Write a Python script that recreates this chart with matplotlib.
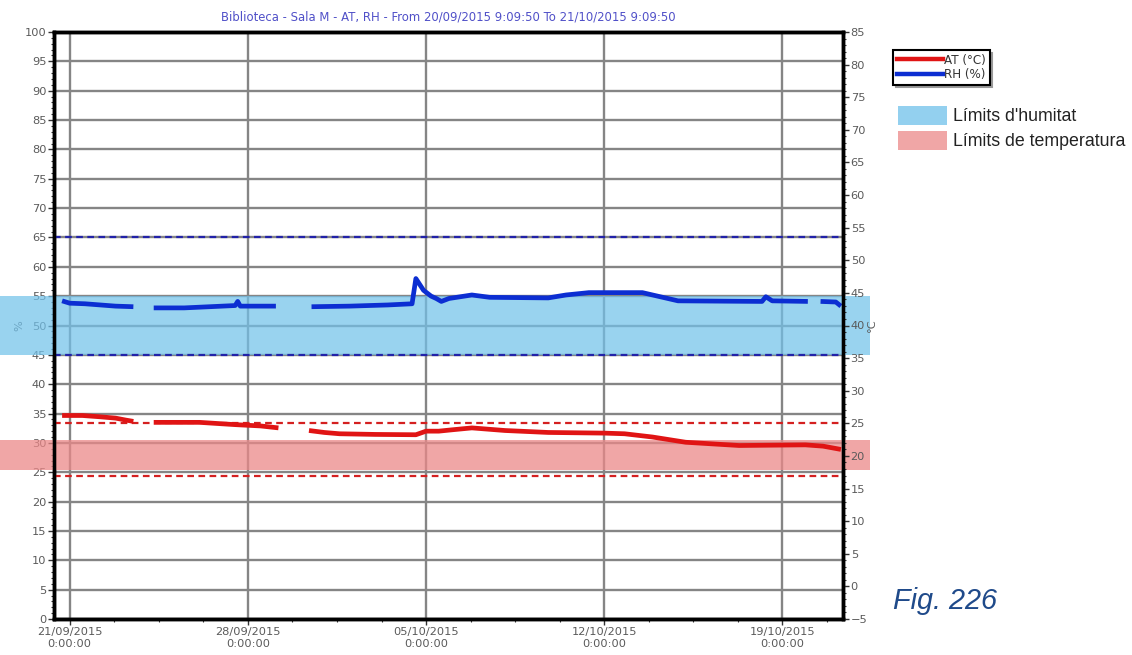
import matplotlib
matplotlib.use("Agg")
import matplotlib.pyplot as plt
import matplotlib.dates as mdates
from matplotlib.patches import Rectangle, Patch
from matplotlib.lines import Line2D
from matplotlib.ticker import MultipleLocator, FixedLocator
import matplotlib.transforms as mtransforms
import numpy as np
import pandas as pd

plt.rcParams['font.family'] = ['DejaVu Sans']

# ---------------- data ----------------
title = "Biblioteca - Sala M - AT, RH - From 20/09/2015 9:09:50 To 21/10/2015 9:09:50"
base_date = "2015-09-21 00:00:00"
start_date = "2015-09-20 09:09:50"
end_date = "2015-10-21 09:09:50"

# days after 21/09/2015 0:00, NaN marks a gap in the record
rh_days = [-0.3, 0.0, 0.6, 1.2, 1.8, 2.5, 2.9,
           3.3, 4.5, 5.5, 6.5, 6.6, 6.7, 8.1, 8.8,
           9.5, 11.0, 12.5, 13.45, 13.6, 13.9, 14.2, 14.4, 14.6, 14.9, 15.8, 16.5,
           18.8, 19.5, 20.4, 22.5, 23.2, 23.9, 27.2, 27.35, 27.6, 29.0, 29.2,
           29.5, 30.1, 30.3]
rh_vals = [54.2, 53.8, 53.7, 53.5, 53.3, 53.2, np.nan,
           53.0, 53.0, 53.2, 53.4, 54.1, 53.3, 53.3, np.nan,
           53.2, 53.3, 53.5, 53.7, 58.0, 56.0, 55.0, 54.6, 54.1, 54.6, 55.2, 54.8,
           54.7, 55.2, 55.6, 55.6, 54.9, 54.2, 54.1, 54.9, 54.2, 54.1, np.nan,
           54.1, 54.0, 53.3]

at_days = [-0.3, 0.5, 1.2, 1.8, 2.2, 2.5, 2.9,
           3.3, 5.1, 6.5, 7.5, 8.2, 8.8,
           9.4, 10.0, 10.6, 12.0, 13.6, 14.0, 14.5, 15.0, 15.8, 17.1, 18.8,
           21.0, 21.8, 22.9, 24.2, 26.3, 28.9, 29.6, 30.3]
at_vals = [26.2, 26.2, 26.0, 25.8, 25.5, 25.3, np.nan,
           25.15, 25.15, 24.8, 24.6, 24.3, np.nan,
           23.9, 23.6, 23.4, 23.3, 23.25, 23.8, 23.8, 24.0, 24.3, 23.9, 23.6,
           23.5, 23.4, 22.9, 22.1, 21.6, 21.7, 21.5, 21.0]

rh_limits = [45, 65]          # % dashed lines
at_limits = [17, 25]          # degC dashed lines
rh_band = [45, 55]            # %
at_band = [17.8, 22.5]        # degC

week_ticks = ["2015-09-21", "2015-09-28", "2015-10-05", "2015-10-12", "2015-10-19"]
week_labels = ["21/09/2015\n0:00:00", "28/09/2015\n0:00:00", "05/10/2015\n0:00:00",
               "12/10/2015\n0:00:00", "19/10/2015\n0:00:00"]

legend_labels = ["AT (°C)", "RH (%)"]
band_labels = ["Límits d'humitat", "Límits de temperatura"]
fig_label = "Fig. 226"

# ---------------- figure ----------------
W, H = 1132, 655
fig = plt.figure(figsize=(W / 100, H / 100), dpi=100)
fig.patch.set_facecolor('white')

L, R, T, B = 54, 843, 32, 619
ax = fig.add_axes([L / W, 1 - B / H, (R - L) / W, (B - T) / H])
ax2 = ax.twinx()

base = pd.Timestamp(base_date)
rh_x = base + pd.to_timedelta(rh_days, unit='D')
at_x = base + pd.to_timedelta(at_days, unit='D')

ax.set_xlim(pd.Timestamp(start_date), pd.Timestamp(end_date))
ax.set_ylim(0, 100)
ax2.set_ylim(-5, 85)

grid_c = '#858585'
tick_c = '#5a5a5a'
blue = '#0c2ed2'
red = '#e01414'

# ticks & grid
ax.set_xticks(pd.to_datetime(week_ticks))
ax.set_xticklabels(week_labels)
ax.yaxis.set_major_locator(MultipleLocator(5))
ax.yaxis.set_minor_locator(MultipleLocator(1))
ax2.yaxis.set_major_locator(MultipleLocator(5))
ax2.yaxis.set_minor_locator(MultipleLocator(1))
b0 = mdates.date2num(base)
ax.xaxis.set_minor_locator(FixedLocator(b0 + np.arange(-1, 19) * 1.75))
ax.grid(True, which='major', color=grid_c, linewidth=1.7)

for a in (ax, ax2):
    a.tick_params(which='major', length=4, width=1, color='#333333', labelcolor=tick_c,
                  labelsize=8.2, pad=1.5)
    a.tick_params(which='minor', length=2, width=0.8, color='#333333')
    for s in a.spines.values():
        s.set_linewidth(2.5)
        s.set_color('black')
ax.tick_params(axis='x', pad=2)

# bands (extend beyond the plot)
trans_l = mtransforms.blended_transform_factory(ax.transAxes, ax.transData)
trans_r = mtransforms.blended_transform_factory(ax.transAxes, ax2.transData)
x0 = -L / (R - L)
x1 = (870 - L) / (R - L)
ax.add_patch(Rectangle((x0, rh_band[0]), x1 - x0, rh_band[1] - rh_band[0], transform=trans_l,
                       facecolor='#72c2ea', alpha=0.72, edgecolor='none', zorder=2.6, clip_on=False))
ax.add_patch(Rectangle((x0, at_band[0]), x1 - x0, at_band[1] - at_band[0], transform=trans_r,
                       facecolor='#eb8888', alpha=0.75, edgecolor='none', zorder=2.6, clip_on=False))

# limit lines
for v in rh_limits:
    ax.axhline(v, color='#2222a8', linestyle=(0, (3, 2)), linewidth=1.6, zorder=3)
for v in at_limits:
    ax.plot([0, 1], [v, v], transform=trans_r, color='#d42020', linestyle=(0, (3, 2)),
            linewidth=1.6, zorder=3)

# data
ax.plot(rh_x, rh_vals, color=blue, linewidth=3.4, zorder=4, solid_capstyle='butt')
ax.plot(at_x, at_vals, color=red, linewidth=3.4, zorder=4, transform=ax2.transData,
        solid_capstyle='butt')

ax.set_ylabel('%', color=tick_c, fontsize=8.2)
ax.yaxis.set_label_coords(-30 / (R - L), 0.5)
ax2.set_ylabel('°C', color=tick_c, fontsize=8.2)
ax2.yaxis.set_label_coords(1 + 24 / (R - L), 0.5)

ax.set_title(title, color='#5050c8', fontsize=8.4, pad=8)

# legends
h1 = [Line2D([], [], color=red, linewidth=3.2), Line2D([], [], color=blue, linewidth=3.2)]
leg1 = fig.legend(h1, legend_labels, loc='upper left', bbox_to_anchor=(893 / W, 1 - 50 / H),
                  fontsize=8.6, handlelength=3.9, handletextpad=0.1, borderpad=0.3,
                  labelspacing=0.12, fancybox=False, framealpha=1, borderaxespad=0,
                  shadow={'ox': 2, 'oy': -2, 'color': '#999999', 'alpha': 1})
leg1.get_frame().set_edgecolor('black')
leg1.get_frame().set_linewidth(1.5)
for t in leg1.get_texts():
    t.set_color('#333333')

h2 = [Patch(facecolor='#93d0ef', edgecolor='none'), Patch(facecolor='#f0a6a6', edgecolor='none')]
leg2 = fig.legend(h2, band_labels, loc='upper left', bbox_to_anchor=(898 / W, 1 - 106 / H),
                  prop={'family': 'Liberation Sans', 'size': 12.8},
                  handlelength=2.75, handleheight=1.26, handletextpad=0.34,
                  labelspacing=0.3, frameon=False, borderaxespad=0, borderpad=0)
for t in leg2.get_texts():
    t.set_color('#222222')

fig.text(893 / W, 1 - 601 / H, fig_label, fontsize=20.8, style='italic', color='#1f4a8a',
         va='center', ha='left', family='Liberation Sans')

fig.savefig('out.png', dpi=100)
